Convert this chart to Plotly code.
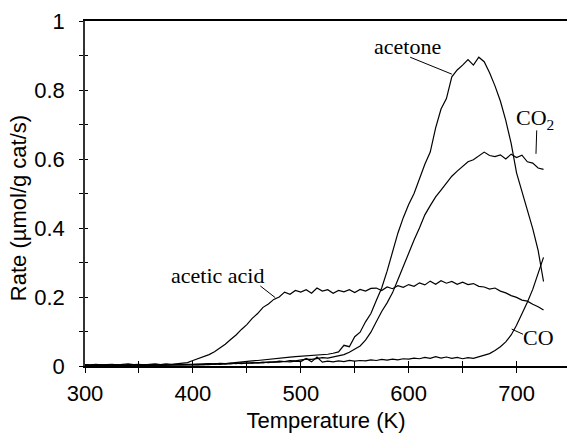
import plotly.graph_objects as go

# Temperature grid (K)
temperature = list(range(300, 730, 5))

acetic_acid = [
    0.004, 0.003, 0.005, 0.003, 0.004, 0.005, 0.003, 0.004, 0.006, 0.004,
    0.005, 0.003, 0.005, 0.006, 0.004, 0.006, 0.005, 0.007, 0.008, 0.010,
    0.016, 0.021, 0.027, 0.033, 0.041, 0.051, 0.063, 0.077, 0.090, 0.106,
    0.120, 0.138, 0.152, 0.170, 0.180, 0.193, 0.200, 0.214, 0.208, 0.219,
    0.214, 0.221, 0.211, 0.226, 0.217, 0.221, 0.211, 0.219, 0.215, 0.221,
    0.213, 0.222, 0.217, 0.225, 0.226, 0.219, 0.229, 0.224, 0.233, 0.228,
    0.236, 0.231, 0.241, 0.235, 0.246, 0.237, 0.247, 0.240, 0.245, 0.237,
    0.243, 0.236, 0.239, 0.231, 0.229, 0.223, 0.226, 0.217, 0.212, 0.204,
    0.199, 0.191, 0.188, 0.179, 0.172, 0.162,
]

acetone = [
    0.003, 0.002, 0.004, 0.003, 0.002, 0.004, 0.003, 0.002, 0.004, 0.003,
    0.003, 0.002, 0.004, 0.003, 0.004, 0.003, 0.004, 0.005, 0.004, 0.005,
    0.005, 0.006, 0.005, 0.007, 0.006, 0.008, 0.007, 0.009, 0.010, 0.012,
    0.013, 0.015, 0.016, 0.018, 0.020, 0.021, 0.023, 0.024, 0.026, 0.027,
    0.028, 0.029, 0.030, 0.031, 0.033, 0.034, 0.037, 0.041, 0.060, 0.056,
    0.085, 0.098, 0.128, 0.152, 0.190, 0.226, 0.275, 0.330, 0.385, 0.430,
    0.468, 0.500, 0.545, 0.585, 0.620, 0.690, 0.745, 0.775, 0.838, 0.858,
    0.872, 0.888, 0.872, 0.895, 0.882, 0.850, 0.812, 0.768, 0.712, 0.645,
    0.560, 0.505, 0.450, 0.398, 0.335, 0.245,
]

co2 = [
    0.002, 0.003, 0.002, 0.003, 0.002, 0.003, 0.004, 0.002, 0.003, 0.002,
    0.003, 0.004, 0.002, 0.003, 0.002, 0.003, 0.004, 0.003, 0.004, 0.003,
    0.004, 0.003, 0.005, 0.004, 0.006, 0.005, 0.007, 0.006, 0.008, 0.007,
    0.009, 0.008, 0.010, 0.009, 0.012, 0.011, 0.014, 0.013, 0.016, 0.015,
    0.018, 0.020, 0.019, 0.022, 0.024, 0.023, 0.027, 0.029, 0.033, 0.040,
    0.048, 0.058, 0.075, 0.098, 0.128, 0.158, 0.183, 0.212, 0.250, 0.290,
    0.328, 0.365, 0.400, 0.438, 0.465, 0.490, 0.510, 0.530, 0.550, 0.565,
    0.580, 0.592, 0.598, 0.608, 0.620, 0.610, 0.607, 0.612, 0.600, 0.614,
    0.604, 0.611, 0.592, 0.588, 0.574, 0.570,
]

co = [
    0.002, 0.003, 0.002, 0.001, 0.003, 0.002, 0.003, 0.002, 0.001, 0.003,
    0.002, 0.003, 0.002, 0.003, 0.002, 0.003, 0.002, 0.003, 0.003, 0.004,
    0.003, 0.005, 0.004, 0.006, 0.005, 0.007, 0.006, 0.008, 0.007, 0.009,
    0.008, 0.010, 0.009, 0.011, 0.010, 0.012, 0.011, 0.013, 0.012, 0.014,
    0.013, 0.022, 0.012, 0.026, 0.011, 0.014, 0.012, 0.015, 0.013, 0.016,
    0.014, 0.016, 0.015, 0.018, 0.016, 0.019, 0.017, 0.020, 0.018, 0.021,
    0.020, 0.023, 0.021, 0.025, 0.022, 0.027, 0.023, 0.026, 0.022, 0.025,
    0.021, 0.024, 0.022, 0.026, 0.030, 0.036, 0.045, 0.056, 0.070, 0.090,
    0.118, 0.150, 0.185, 0.222, 0.268, 0.315,
]

series = [
    ("acetic acid", acetic_acid),
    ("acetone", acetone),
    ("CO2", co2),
    ("CO", co),
]

# Labels: (text, text x, text y, leader start, leader end)
labels = [
    ("acetone", 598.6, 0.927, (601.4, 0.895), (640.0, 0.846)),
    ("CO<sub>2</sub>", 717.0, 0.717, (718.7, 0.683), (718.0, 0.615)),
    ("acetic acid", 423.0, 0.262, (462.5, 0.232), (476.4, 0.198)),
    ("CO", 720.5, 0.084, (706.0, 0.092), (695.5, 0.107)),
]

SANS = "Arial, Liberation Sans, sans-serif"
SERIF = "Times New Roman, Liberation Serif, serif"

fig = go.Figure()
for name, vals in series:
    fig.add_trace(go.Scatter(
        x=temperature, y=vals, mode="lines", name=name,
        line=dict(color="black", width=1.2), showlegend=False,
    ))

# empty line trace so the overlaid tick axes are drawn
fig.add_trace(go.Scatter(x=[300, 300], y=[0, 0], xaxis="x2", yaxis="y2",
                         mode="lines", line=dict(width=0),
                         showlegend=False, hoverinfo="skip"))

x_range = [300, 746.76]
fig.update_layout(
    width=567, height=433,
    margin=dict(l=84.5, r=0, t=20.7, b=67.3),
    paper_bgcolor="white", plot_bgcolor="white",
    font=dict(family=SANS, size=22, color="black"),
    xaxis=dict(
        range=x_range, tick0=300, dtick=100,
        showline=True, linecolor="black", linewidth=1.5, mirror=True,
        ticks="outside", ticklen=5, tickwidth=1, tickcolor="black",
        minor=dict(dtick=50, ticks="outside", ticklen=5, tickcolor="black"),
        showgrid=False, zeroline=False,
        tickfont=dict(family=SANS, size=22), ticklabelstandoff=2,
        title=dict(text="Temperature (K)", font=dict(family=SANS, size=22), standoff=11),
    ),
    yaxis=dict(
        range=[0, 1], tick0=0, dtick=0.2,
        showline=True, linecolor="#333", linewidth=1.5,
        ticks="outside", ticklen=4, tickwidth=1, tickcolor="black",
        minor=dict(dtick=0.1, ticks="outside", ticklen=4, tickcolor="black"),
        showgrid=False, zeroline=False,
        tickfont=dict(family=SANS, size=22), ticklabelstandoff=10,
    ),
    xaxis2=dict(
        range=x_range, overlaying="x", side="bottom", tick0=300, dtick=100,
        ticks="inside", ticklen=5, tickcolor="black", showticklabels=False,
        minor=dict(dtick=50, ticks="inside", ticklen=5, tickcolor="black"),
        showline=False, showgrid=False, zeroline=False,
    ),
    yaxis2=dict(
        range=[0, 1], overlaying="y", side="left", tick0=0, dtick=0.2,
        ticks="inside", ticklen=3, tickcolor="black", showticklabels=False,
        minor=dict(dtick=0.1, ticks="inside", ticklen=3, tickcolor="black"),
        showline=False, showgrid=False, zeroline=False,
    ),
)

# y-axis title, set slightly below the middle of the axis
fig.add_annotation(text="Rate (µmol/g cat/s)", textangle=-90,
                   xref="paper", yref="paper", x=-0.138, y=0.459,
                   xanchor="center", yanchor="middle", showarrow=False,
                   font=dict(family=SANS, size=22, color="black"))

for text, tx, ty, (x0, y0), (x1, y1) in labels:
    fig.add_annotation(x=tx, y=ty, xref="x", yref="y", text=text,
                       showarrow=False, xanchor="center", yanchor="middle",
                       font=dict(family=SERIF, size=22, color="black"))
    fig.add_shape(type="line", xref="x", yref="y", x0=x0, y0=y0, x1=x1, y1=y1,
                  line=dict(color="black", width=1))

fig.write_html("out.html")
